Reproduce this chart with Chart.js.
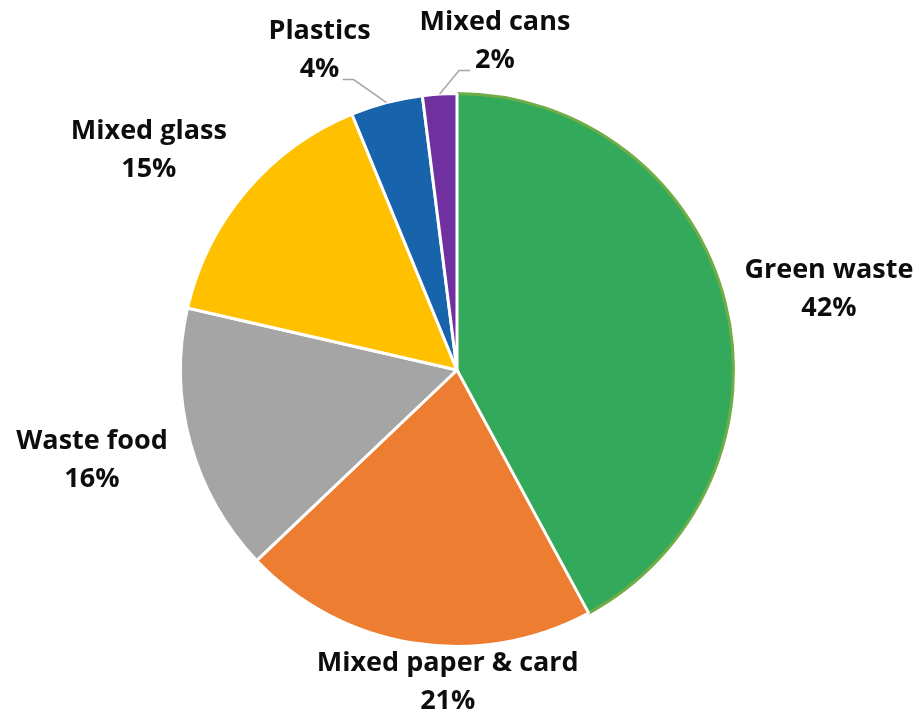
<!DOCTYPE html>
<html>
<head>
<meta charset="utf-8">
<script src="https://cdn.jsdelivr.net/npm/chart.js@4.4.1/dist/chart.umd.min.js"></script>
<style>
    body { margin: 0; background: #fff; }
    #wrap { width: 918px; height: 717px; }
</style>
</head>
<body>
<div id="wrap"><canvas id="wasteChart" width="918" height="717"></canvas></div>
<script>
// categories and shares
const categories = ["Green waste", "Mixed paper & card", "Waste food", "Mixed glass", "Plastics", "Mixed cans"]
const shares = [42.1, 20.8, 15.7, 15.2, 4.2, 2.0]
const sliceColors = ["#32A95B", "#ED7D31", "#A5A5A5", "#FFC000", "#1764AD", "#7030A0"]
const edgeColors = ["#70AD47", "#FFFFFF", "#FFFFFF", "#FFFFFF", "#FFFFFF", "#FFFFFF"]

// where each label block sits: angle (deg, clockwise from top) and distance in radii
const labelAngle = [77.8, 181.7, 256.1, 305.5, 336.7, 6.6]
const labelDist = [1.376, 1.13, 1.36, 1.369, 1.257, 1.195]
// leader lines: elbow angle / distance, then a short horizontal run (+right, -left)
const leaders = [null, null, null, null, { angle: 340.4, dist: 1.115, run: -11 }, { angle: 0.4, dist: 1.083, run: 11 }]

function polar(cx, cy, r, deg) {
    const a = (deg - 90) * Math.PI / 180
    return { x: cx + r * Math.cos(a), y: cy + r * Math.sin(a) }
}

const labelPlugin = {
    id: "pieLabels",
    afterDatasetsDraw(chart) {
        const ctx = chart.ctx
        const meta = chart.getDatasetMeta(0)
        const arc0 = meta.data[0]
        const cx = arc0.x, cy = arc0.y, r = arc0.outerRadius
        const total = shares.reduce((a, b) => a + b, 0)

        ctx.save()
        // leader lines
        ctx.strokeStyle = "#A6A6A6"
        ctx.lineWidth = 1.5
        meta.data.forEach((arc, i) => {
            const ld = leaders[i]
            if (!ld) return
            const mid = (arc.startAngle + arc.endAngle) / 2
            const start = { x: cx + r * Math.cos(mid), y: cy + r * Math.sin(mid) }
            const elbow = polar(cx, cy, r * ld.dist, ld.angle)
            ctx.beginPath()
            ctx.moveTo(start.x, start.y)
            ctx.lineTo(elbow.x, elbow.y)
            ctx.lineTo(elbow.x + ld.run, elbow.y)
            ctx.stroke()
        })

        // text
        ctx.fillStyle = "#0D0D0D"
        ctx.font = "bold 27px 'Open Sans'"
        ctx.textAlign = "center"
        ctx.textBaseline = "middle"
        categories.forEach((name, i) => {
            const p = polar(cx, cy, r * labelDist[i], labelAngle[i])
            const pct = Math.round(shares[i] / total * 100) + "%"
            ctx.fillText(name, p.x, p.y - 19)
            ctx.fillText(pct, p.x, p.y + 19)
        })
        ctx.restore()
    }
}

function drawPie() {
    const ctx = document.getElementById("wasteChart").getContext("2d")
    new Chart(ctx, {
        type: "pie",
        data: {
            labels: categories,
            datasets: [{
                data: shares,
                backgroundColor: sliceColors,
                borderColor: edgeColors,
                borderWidth: 3
            }]
        },
        options: {
            responsive: false,
            animation: false,
            layout: { padding: { top: 92, bottom: 69, left: 179, right: 183 } },
            plugins: {
                legend: { display: false },
                tooltip: { enabled: false }
            }
        },
        plugins: [labelPlugin]
    })
}

drawPie()
</script>
</body>
</html>
